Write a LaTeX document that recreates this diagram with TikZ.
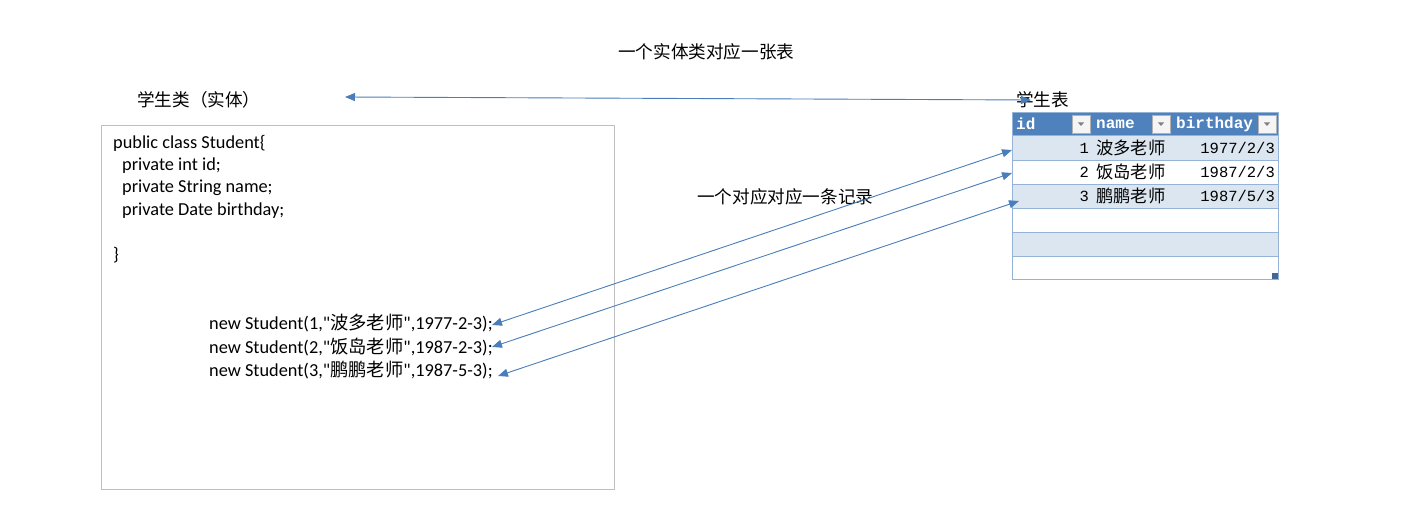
\documentclass[tikz,border=0pt]{standalone}
\usepackage{fontspec}
\setmainfont{Carlito}
\newfontfamily\codefont{Carlito}
\newfontfamily\cjk{Noto Sans CJK SC}
\newfontfamily\tmono{Liberation Mono}
\usetikzlibrary{arrows.meta}
\definecolor{arr}{HTML}{4A7EBB}
\definecolor{hdr}{HTML}{4F81BD}
\definecolor{lrow}{HTML}{DCE6F1}
\definecolor{tline}{HTML}{95B3D7}
\definecolor{boxg}{HTML}{BFBFBF}
\tikzset{
  conn/.style={draw=arr, line width=0.9pt, {Triangle[length=10pt,width=8pt]}-{Triangle[length=10pt,width=8pt]}},
  code/.style={anchor=west, inner sep=0pt, font=\fontsize{18.3}{22}\selectfont\codefont},
  cjklabel/.style={anchor=west, inner sep=0pt, font=\fontsize{17.6}{20}\selectfont\cjk},
  hdrtext/.style={anchor=west, inner sep=0pt, text=white, font=\fontsize{16}{18}\selectfont\tmono\bfseries},
  celltext/.style={inner sep=0pt, font=\fontsize{15.5}{18}\selectfont\tmono},
  cellcjk/.style={anchor=west, inner sep=0pt, font=\fontsize{17.3}{20}\selectfont\cjk},
  ddbox/.style={draw=gray!60, fill=gray!8, minimum width=18pt, minimum height=18pt, inner sep=0pt}
}
\begin{document}
\begin{tikzpicture}[x=1pt,y=-1pt]
\useasboundingbox (0,0) rectangle (1414,508);
% titles
\node[cjklabel] (title) at (618,52) {一个实体类对应一张表};
\node[cjklabel] (cls) at (137,100) {学生类（实体）};
\node[cjklabel] (tbl) at (1016,100) {学生表};
\node[cjklabel] (rec) at (697,197) {一个对应对应一条记录};
% left box
\draw[boxg, line width=0.8pt] (101,125) rectangle (614,489);
\node[code] (l1) at (113,143) {public class Student\{};
\node[code] (l2) at (122,166) {private int id;};
\node[code] (l3) at (122,188) {private String name;};
\node[code] (l4) at (122,211) {private Date birthday;};
\node[code] (l5) at (113,255) {\}};
\node[code] (n1) at (209,323) {new Student(1,"{\cjk 波多老师}",1977-2-3);};
\node[code] (n2) at (209,347) {new Student(2,"{\cjk 饭岛老师}",1987-2-3);};
\node[code] (n3) at (209,370) {new Student(3,"{\cjk 鹏鹏老师}",1987-5-3);};
% table
\fill[hdr] (1012,112) rectangle (1278,135);
\fill[lrow] (1012,135) rectangle (1278,160);
\fill[lrow] (1012,184) rectangle (1278,208);
\fill[lrow] (1012,232) rectangle (1278,256);
\foreach \yy in {135,160,184,208,232,256} \draw[tline, line width=0.8pt] (1012,\yy) -- (1278,\yy);
\draw[tline, line width=0.8pt] (1012,112) rectangle (1278,279);
\fill[hdr!80!black] (1272,273) rectangle (1278,279);
\node[hdrtext] (hid) at (1016,124) {id};
\node[hdrtext] (hname) at (1096,124) {name};
\node[hdrtext] (hbd) at (1176,124) {birthday};
\node[ddbox] (d1) at (1081,124) {};
\node[ddbox] (d2) at (1161,124) {};
\node[ddbox] (d3) at (1267,124) {};
\foreach \dd in {d1,d2,d3} \fill[gray] ([shift={(-3,-1.5)}]\dd.center) -- ([shift={(3,-1.5)}]\dd.center) -- ([shift={(0,2)}]\dd.center) -- cycle;
\node[celltext, anchor=east] (i1) at (1089,148) {1};
\node[celltext, anchor=east] (i2) at (1089,172) {2};
\node[celltext, anchor=east] (i3) at (1089,196) {3};
\node[cellcjk] (m1) at (1096,148) {波多老师};
\node[cellcjk] (m2) at (1096,172) {饭岛老师};
\node[cellcjk] (m3) at (1096,196) {鹏鹏老师};
\node[celltext, anchor=east] (b1) at (1275,148) {1977/2/3};
\node[celltext, anchor=east] (b2) at (1275,172) {1987/2/3};
\node[celltext, anchor=east] (b3) at (1275,196) {1987/5/3};
% connectors
\coordinate (ta) at (345,97);
\coordinate (tb) at (1031,100);
\draw[conn] (ta) -- (tb);
\coordinate (r1) at (1012,150);
\coordinate (r2) at (1012,173);
\coordinate (r3) at (1019,201);
\coordinate (c1) at (492,325);
\coordinate (c2) at (492,347);
\coordinate (c3) at (498,376);
\draw[conn] (r1) -- (c1);
\draw[conn] (r2) -- (c2);
\draw[conn] (r3) -- (c3);
\end{tikzpicture}
\end{document}
